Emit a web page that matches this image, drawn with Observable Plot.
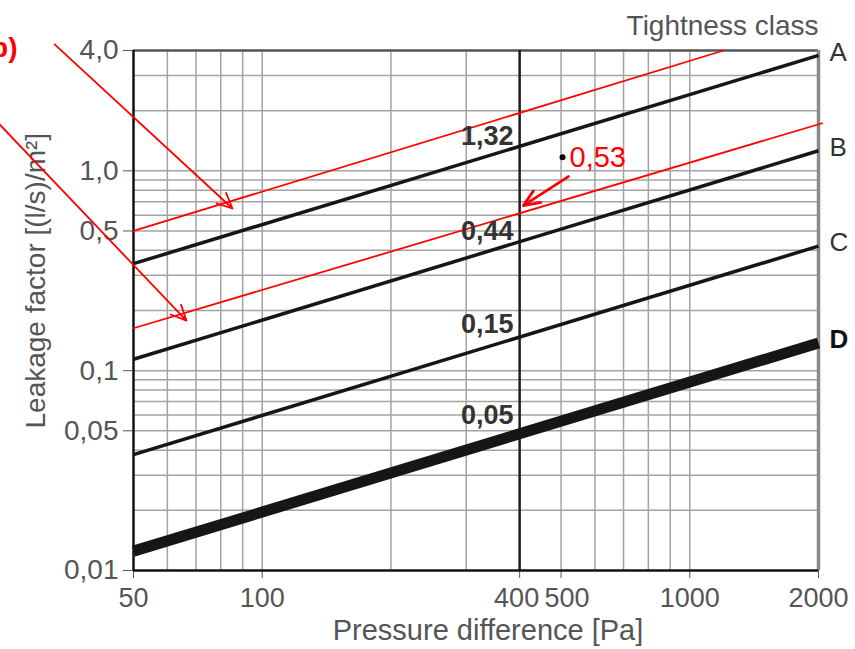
<!DOCTYPE html>
<html><head><meta charset="utf-8">
<script src="https://cdn.jsdelivr.net/npm/d3@7"></script>
<script src="https://cdn.jsdelivr.net/npm/@observablehq/plot@0.6"></script>
<style>
body{margin:0;background:#fff;overflow:hidden}
svg{display:block}
</style>
</head><body><div id="chart"></div>
<script>
// ---- data ----
const classes = ["A", "B", "C", "D"];
const classValues400 = [1.32, 0.44, 0.15, 0.05];
const classValueLabels = ["1,32", "0,44", "0,15", "0,05"];
const linePressures = [50, 2000];
const lineStartValues = [0.343, 0.114, 0.038, 0.0125];
const lineEndValues = [3.78, 1.26, 0.42, 0.1375];
const referencePressure = 400;

const xTickValues = [50, 100, 400, 500, 1000, 2000];
const xTickLabels = ["50", "100", "400", "500", "1000", "2000"];
const yTickValues = [4, 1, 0.5, 0.1, 0.05, 0.01];
const yTickLabels = ["4,0", "1,0", "0,5", "0,1", "0,05", "0,01"];
const xGridValues = [60, 70, 80, 90, 100, 200, 300, 500, 600, 700, 800, 900, 1000];
const yGridValues = [0.02, 0.03, 0.04, 0.05, 0.06, 0.07, 0.08, 0.09, 0.1,
  0.2, 0.3, 0.4, 0.5, 0.6, 0.7, 0.8, 0.9, 1, 2, 3];

const redLine1Pressure = [50, 1200];
const redLine1Values = [0.5, 4.0];
const redLine2Pressure = [50, 2040];
const redLine2Values = [0.163, 1.73];

const arrowFromPressure = [32.7, 23.8, 520];
const arrowFromValues = [4.29, 1.79, 0.936];
const arrowToPressure = [85.2, 66.5, 408];
const arrowToValues = [0.648, 0.178, 0.670];

const markerPressure = [504];
const markerValue = [1.17];
const markerLabel = ["0,53"];

const xTitle = "Pressure difference [Pa]";
const yTitle = "Leakage factor [(l/s)/m²]";
const legendTitle = "Tightness class";
const panelLetter = "b)";

// ---- derived tables ----
const classRows = classes.map((c, i) => ({
  cls: c, v400: classValues400[i], label: classValueLabels[i],
  p0: linePressures[0], p1: linePressures[1],
  v0: lineStartValues[i], v1: lineEndValues[i]
}));
const thin = classRows.filter(d => d.cls !== "D");
const thick = classRows.filter(d => d.cls === "D");
const red1 = redLine1Pressure.map((p, i) => ({p, v: redLine1Values[i]}));
const red2 = redLine2Pressure.map((p, i) => ({p, v: redLine2Values[i]}));
const arrows = arrowFromPressure.map((p, i) => ({
  p1: p, v1: arrowFromValues[i], p2: arrowToPressure[i], v2: arrowToValues[i], i
}));
const xLabelRows = xTickValues.map((p, i) => ({p, label: xTickLabels[i]}));
const yLabelRows = yTickValues.map((v, i) => ({v, label: yTickLabels[i]}));
const markerRows = markerPressure.map((p, i) => ({p, v: markerValue[i], label: markerLabel[i]}));
const yMin = yTickValues[yTickValues.length - 1];
const xMin = xTickValues[0];

const font = "'Liberation Sans', Arial, Helvetica, sans-serif";
const gray = "#555";

const chart = Plot.plot({
  width: 855,
  height: 649,
  marginLeft: 133,
  marginRight: 37,
  marginTop: 50,
  marginBottom: 79,
  style: {fontFamily: font, fontSize: "28px", color: gray, background: "#fff"},
  x: {type: "log", domain: [50, 2000], ticks: xTickValues, tickFormat: () => "", tickSize: 8, label: null},
  y: {type: "log", domain: [0.01, 4], ticks: yTickValues, tickFormat: () => "", tickSize: 10, label: null},
  marks: [
    Plot.ruleX(xGridValues, {stroke: "#a3a3a3", strokeWidth: 1.5}),
    Plot.ruleY(yGridValues, {stroke: "#a3a3a3", strokeWidth: 1.5}),
    Plot.ruleY([4], {stroke: "#555", strokeWidth: 2.5}),
    Plot.ruleX([2000], {stroke: "#8a8a8a", strokeWidth: 3.5}),
    Plot.ruleX([referencePressure], {stroke: "#1e1e1e", strokeWidth: 2.5}),
    Plot.ruleX([50], {stroke: "#111", strokeWidth: 2.5}),
    Plot.ruleY([0.01], {stroke: "#111", strokeWidth: 2.5}),
    // red helper lines
    Plot.line(red1, {x: "p", y: "v", stroke: "#f00", strokeWidth: 1.8}),
    Plot.line(red2, {x: "p", y: "v", stroke: "#f00", strokeWidth: 1.8}),
    // class lines
    Plot.link(thin, {x1: "p0", x2: "p1", y1: "v0", y2: "v1", stroke: "#161616", strokeWidth: 3.5}),
    Plot.link(thick, {x1: "p0", x2: "p1", y1: "v0", y2: "v1", stroke: "#161616", strokeWidth: 11}),
    // class values at 400 Pa
    Plot.text(thin, {x: () => referencePressure, y: "v400", text: "label", textAnchor: "end",
      lineAnchor: "bottom", dx: -6, dy: -2, fontSize: 27, fontWeight: "bold", fill: "#333"}),
    Plot.text(thick, {x: () => referencePressure, y: "v400", text: "label", textAnchor: "end",
      lineAnchor: "bottom", dx: -6, dy: -7, fontSize: 27, fontWeight: "bold", fill: "#333"}),
    // class letters
    Plot.text(thin, {x: "p1", y: "v1", text: "cls", textAnchor: "start", dx: 11, dy: -3,
      fontSize: 26, fill: "#333"}),
    Plot.text(thick, {x: "p1", y: "v1", text: "cls", textAnchor: "start", dx: 11, dy: -3,
      fontSize: 26, fontWeight: "bold", fill: "#111"}),
    // y tick labels
    Plot.text(yLabelRows, {x: () => xMin, y: "v", text: "label", textAnchor: "end",
      dx: -15, fontSize: 28, fill: gray}),
    // x tick labels
    Plot.text(xLabelRows.filter(d => d.p !== 500 && d.p !== 400), {x: "p", y: () => yMin, text: "label",
      dy: 28, fontSize: 27, fill: gray}),
    Plot.text(xLabelRows.filter(d => d.p === 400), {x: "p", y: () => yMin, text: "label",
      dx: -3, dy: 28, fontSize: 27, fill: gray}),
    Plot.text(xLabelRows.filter(d => d.p === 500), {x: "p", y: () => yMin, text: "label",
      dx: 6, dy: 28, fontSize: 27, fill: gray}),
    // titles
    Plot.text([xTitle], {frameAnchor: "bottom", text: d => d, dx: 12, dy: 69, fontSize: 29, fill: gray}),
    Plot.text([yTitle], {frameAnchor: "left", text: d => d, rotate: -90, textAnchor: "start",
      dx: -97, dy: 118, fontSize: 28, fill: gray}),
    Plot.text([legendTitle], {frameAnchor: "top-right", text: d => d, textAnchor: "end",
      dy: -35, fontSize: 28, fill: gray}),
    Plot.text([panelLetter], {frameAnchor: "top-left", text: d => d, textAnchor: "end",
      dx: -116, dy: -13, fontSize: 28, fontWeight: "bold", fill: "#f00"}),
    // annotations
    Plot.arrow(arrows.filter(d => d.i < 2), {x1: "p1", y1: "v1", x2: "p2", y2: "v2",
      stroke: "#f00", strokeWidth: 1.8, headLength: 14, headAngle: 50}),
    Plot.arrow(arrows.filter(d => d.i === 2), {x1: "p1", y1: "v1", x2: "p2", y2: "v2",
      stroke: "#f00", strokeWidth: 2.8, headLength: 12, headAngle: 45}),
    Plot.dot(markerRows, {x: "p", y: "v", r: 3, fill: "#000"}),
    Plot.text(markerRows, {x: "p", y: "v", text: "label", textAnchor: "start", dx: 7, dy: 1,
      fontSize: 29, fill: "#f00"})
  ]
});
document.getElementById("chart").appendChild(chart);
</script>
</body></html>
